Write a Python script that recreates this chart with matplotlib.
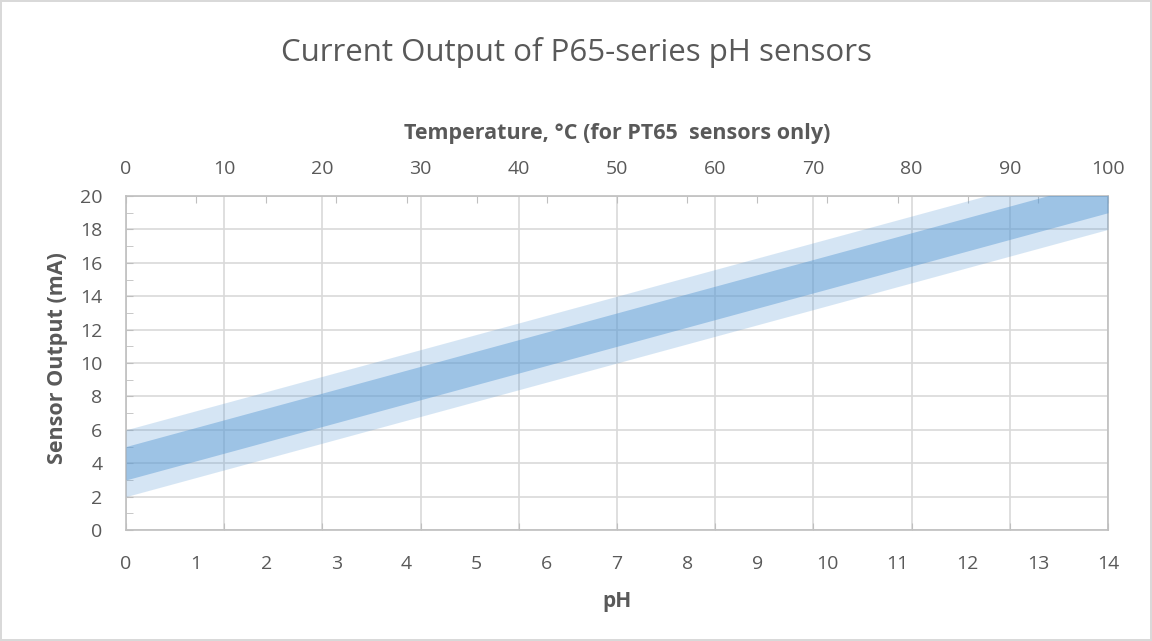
import matplotlib.pyplot as plt
from matplotlib.ticker import MultipleLocator

# band edges (sensor output in mA) at pH 0 and pH 14
ph = [0, 14]
outer_low = [2, 18]
outer_high = [6, 22]
inner_low = [3, 19]
inner_high = [5, 21]

ph_ticks = list(range(0, 15))
temp_ticks = list(range(0, 101, 10))
y_ticks = list(range(0, 21, 2))

txt = "#595959"
spine_c = "#bfbfbf"
grid_c = "#d9d9d9"

plt.rcParams['font.family'] = ['Open Sans', 'DejaVu Sans']

fig = plt.figure(figsize=(11.52, 6.41), dpi=100)
fig.patch.set_edgecolor("#d9d9d9")
fig.patch.set_linewidth(1.5)

ax = fig.add_axes([126 / 1152, 1 - 530 / 641, 982 / 1152, 334 / 641])
ax.fill_between(ph, outer_low, outer_high, color="#5b9bd5", alpha=0.25, lw=0, zorder=3)
ax.fill_between(ph, inner_low, inner_high, color="#5b9bd5", alpha=0.46, lw=0, zorder=4)
ax.set_xlim(0, 14)
ax.set_ylim(0, 20)
ax.set_yticks(y_ticks)
ax.yaxis.set_minor_locator(MultipleLocator(1))
ax.tick_params(axis="y", which="both", direction="in", length=5, color=spine_c,
               labelcolor=txt, labelsize=14, pad=17)
ax.yaxis.grid(True, color=grid_c, lw=1.2, zorder=0)
for s in ax.spines.values():
    s.set_color(spine_c)
    s.set_linewidth(1.2)
ax.set_xlabel("pH", fontsize=15, fontweight="bold", color=txt, labelpad=13)
ax.set_ylabel("Sensor Output (mA)", fontsize=15.5, fontweight="bold", color=txt)
ax.yaxis.set_label_coords(-58 / 982, 0.516)

ax2 = ax.twiny()
ax2.set_xlim(0, 100)
ax2.set_xticks(temp_ticks)
ax2.tick_params(axis="x", bottom=True, top=False, labelbottom=False, labeltop=True,
                direction="in", length=5, color=spine_c, labelcolor=txt, labelsize=14, pad=13)
ax2.xaxis.grid(True, color=grid_c, lw=1.2, zorder=0)
ax2.set_axisbelow(True)
for s in ax2.spines.values():
    s.set_visible(False)
ax2.set_xlabel("Temperature, \u00b0C (for PT65  sensors only)", fontsize=15.5,
               fontweight="bold", color=txt, labelpad=15)

# pH ticks sit on the top spine, labels stay at the bottom
ax.set_xticks(ph_ticks)
ax.tick_params(axis="x", bottom=False, top=True, labelbottom=True, labeltop=False,
               direction="in", length=5, color=spine_c, labelcolor=txt, labelsize=14, pad=18)
ax.set_zorder(ax2.get_zorder() + 1)
ax.patch.set_visible(False)

fig.text(0.5, 1 - 53 / 641, "Current Output of P65-series pH sensors",
         ha="center", va="center", fontsize=22.5, color=txt)

fig.savefig("out.png", dpi=100)
